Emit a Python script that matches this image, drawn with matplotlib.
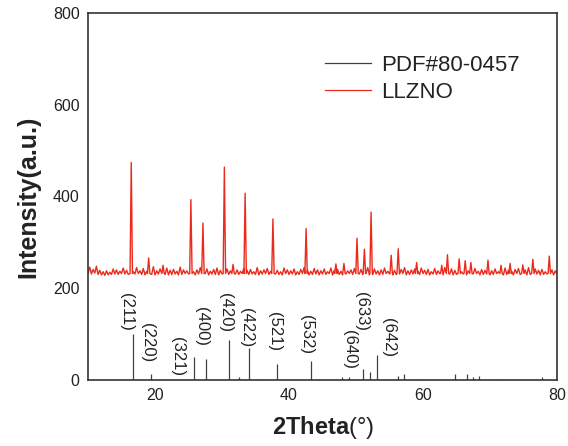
import matplotlib
matplotlib.use('Agg')
import matplotlib.pyplot as plt
import numpy as np
from matplotlib.lines import Line2D

plt.rcParams['font.family'] = ['Liberation Sans', 'DejaVu Sans']
plt.rcParams['mathtext.fontset'] = 'custom'
plt.rcParams['mathtext.bf'] = 'Liberation Sans:bold'
plt.rcParams['mathtext.rm'] = 'Liberation Sans'

RED = '#ec2a1c'
STICK = '#404040'
TEXT = '#222222'

# LLZNO measured pattern: lower edge of the noisy baseline, every 0.5 deg (10 .. 80)
base_x = np.arange(10.0, 80.01, 0.5)
base_y = [232, 231, 233, 230, 229, 228, 229, 230, 231, 230,
          232, 231, 230, 229, 231, 232, 230, 229, 231, 230,
          229, 231, 232, 230, 229, 230, 231, 229, 230, 232,
          231, 230, 229, 231, 230, 232, 229, 231, 230, 229,
          231, 232, 230, 229, 231, 230, 232, 229, 230, 231,
          230, 229, 231, 232, 230, 229, 231, 230, 229, 232,
          230, 231, 229, 230, 232, 231, 229, 230, 231, 229,
          231, 230, 232, 229, 231, 230, 229, 231, 232, 230,
          229, 231, 230, 232, 229, 230, 231, 229, 230, 232,
          231, 229, 230, 231, 232, 229, 230, 231, 229, 230,
          232, 230, 229, 231, 230, 232, 229, 230, 231, 229,
          230, 232, 231, 229, 230, 231, 232, 229, 230, 231,
          229, 230, 232, 231, 229, 230, 231, 229, 232, 230,
          231, 229, 230, 232, 231, 229, 230, 231, 232, 229,
          231]
# upper spikes of the noisy baseline, half way between (10.25 .. 79.75)
mid_x = np.arange(10.25, 79.8, 0.5)
mid_y = [246, 241, 248, 239, 236, 238, 235, 242, 240, 237,
         244, 239, 241, 236, 245, 238, 243, 237, 240, 247,
         238, 242, 236, 244, 239, 241, 237, 246, 240, 238,
         243, 236, 240, 245, 238, 242, 237, 241, 244, 239,
         236, 242, 238, 247, 240, 237, 243, 239, 241, 236,
         245, 238, 240, 243, 237, 241, 239, 236, 244, 240,
         238, 242, 236, 241, 245, 239, 237, 243, 240, 238,
         242, 236, 244, 239, 241, 237, 246, 238, 240, 243,
         237, 241, 239, 245, 236, 242, 238, 240, 244, 237,
         243, 239, 236, 241, 245, 238, 240, 242, 237, 244,
         239, 241, 236, 243, 238, 240, 245, 237, 242, 239,
         241, 236, 244, 238, 240, 243, 237, 241, 239, 246,
         238, 242, 236, 240, 244, 239, 237, 241, 243, 238,
         240, 245, 237, 242, 239, 241, 236, 244, 240, 238]

# LLZNO peak positions and apex intensities
peak_pos = [16.45, 19.05, 21.2, 25.35, 27.15, 30.35, 31.65, 33.45, 37.6, 42.55,
            47.0, 48.2, 50.15, 51.25, 52.25, 55.25, 56.3, 59.05, 62.8, 63.65,
            65.4, 66.3, 67.15, 69.7, 71.65, 73.0, 74.9, 76.4, 78.85]
peak_int = [474, 266, 250, 393, 342, 464, 252, 407, 351, 330,
            253, 254, 309, 285, 366, 272, 286, 256, 250, 273,
            264, 260, 256, 261, 250, 254, 251, 263, 270]
peak_foot = 232

# PDF#80-0457 reference sticks
ref_pos = [16.76, 19.4, 25.82, 27.61, 31.0, 32.54, 34.07, 35.52, 38.25, 43.28,
           44.48, 47.87, 48.96, 51.09, 52.13, 53.18, 56.22, 57.2, 60.04, 64.78,
           66.52, 67.42, 68.36, 71.0, 77.8]
ref_int = [100, 12, 51, 45, 87, 6, 69, 2, 35, 41,
           2, 6, 7, 23, 17, 54, 9, 14, 2, 12,
           14, 7, 9, 2, 6]

# hkl labels
hkl = ['(211)', '(220)', '(321)', '(400)', '(420)', '(422)', '(521)', '(532)',
       '(640)', '(633)', '(642)']
hkl_x = [15.8, 18.95, 23.3, 26.95, 30.55, 33.7, 37.9, 42.65, 49.1, 50.85, 54.8]
hkl_top = [189, 124, 93, 159, 189, 157, 148, 141, 109, 191, 135]

# assemble the measured trace
pts = []
for x, y in list(zip(base_x, base_y)) + list(zip(mid_x, mid_y)):
    if min(abs(x - p) for p in peak_pos) > 0.2:
        pts.append((x, y))
for p, h in zip(peak_pos, peak_int):
    pts += [(p - 0.18, peak_foot), (p, h), (p + 0.18, peak_foot)]
pts.sort()
meas_x = [p[0] for p in pts]
meas_y = [p[1] for p in pts]

fig = plt.figure(figsize=(5.68, 4.46), dpi=100)
ax = fig.add_axes([0.155, 0.148, 0.8256, 0.823])

ax.plot(meas_x, meas_y, color=RED, lw=1.0)
ax.vlines(ref_pos, 0, ref_int, color=STICK, lw=0.9)

for t, x, y in zip(hkl, hkl_x, hkl_top):
    ax.text(x, y, t, rotation=270, ha='center', va='top', fontsize=12, color=TEXT)

ax.set_xlim(10, 80)
ax.set_ylim(0, 800)
ax.set_xticks([20, 40, 60, 80])
ax.set_yticks([0, 200, 400, 600, 800])
ax.tick_params(length=0, labelsize=11.5, labelcolor=TEXT, pad=6)
for s in ax.spines.values():
    s.set_color('#333333')
    s.set_linewidth(1.2)

ax.set_xlabel(r'$\mathbf{2Theta}$(°)', fontsize=17, color=TEXT, labelpad=8)
ax.set_ylabel('Intensity(a.u.)', fontsize=18, fontweight='bold', color=TEXT, labelpad=9)

handles = [Line2D([], [], color=STICK, lw=0.9), Line2D([], [], color=RED, lw=0.9)]
ax.legend(handles, ['PDF#80-0457', 'LLZNO'], loc='upper left',
          bbox_to_anchor=(0.462, 0.94), frameon=False, fontsize=16,
          handlelength=2.1, handletextpad=0.45, labelspacing=0.25,
          labelcolor=TEXT)

fig.savefig('out.png', dpi=100)
